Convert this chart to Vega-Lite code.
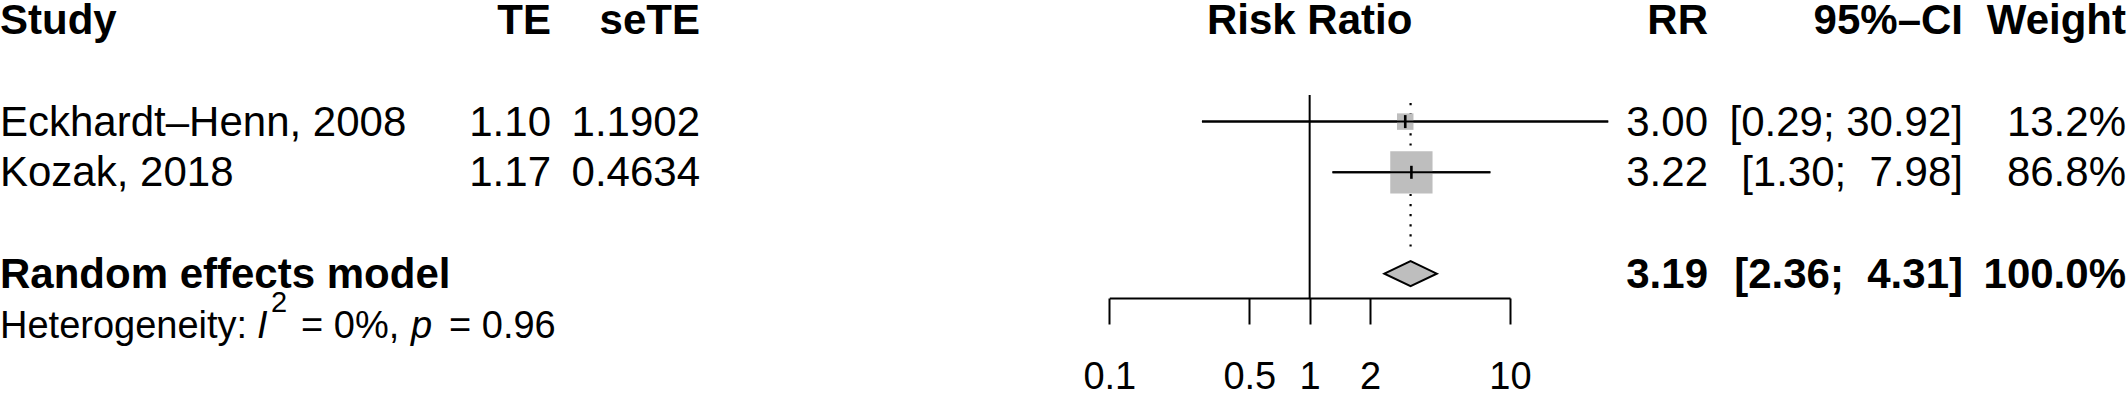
{
  "$schema": "https://vega.github.io/schema/vega-lite/v6.json",
  "width": 2128,
  "height": 399,
  "autosize": {"type": "fit", "contains": "padding"},
  "padding": 0,
  "background": "white",
  "config": {"view": {"stroke": null}, "font": "Liberation Sans", "text": {"color": "black"}},
  "datasets": {
    "table": [
      {"row": 0, "bold": true, "Study": "Study", "TE": "TE", "seTE": "seTE", "RR": "RR", "CI": "95%–CI", "Weight": "Weight"},
      {"row": 2, "bold": false, "Study": "Eckhardt–Henn, 2008", "TE": "1.10", "seTE": "1.1902", "RR": "3.00", "CI": "[0.29; 30.92]", "Weight": "13.2%"},
      {"row": 3, "bold": false, "Study": "Kozak, 2018", "TE": "1.17", "seTE": "0.4634", "RR": "3.22", "CI": "[1.30;\u00a0 7.98]", "Weight": "86.8%"},
      {"row": 5, "bold": true, "Study": "Random effects model", "TE": "", "seTE": "", "RR": "3.19", "CI": "[2.36;\u00a0 4.31]", "Weight": "100.0%"}
    ],
    "effects": [
      {"row": 2, "kind": "study", "rr": 3.00, "lower": 0.29, "upper": 30.92, "weight": 13.2},
      {"row": 3, "kind": "study", "rr": 3.22, "lower": 1.30, "upper": 7.98, "weight": 86.8},
      {"row": 5, "kind": "summary", "rr": 3.19, "lower": 2.36, "upper": 4.31, "weight": 100}
    ],
    "het": [
      {"row": 6, "seg": 0, "style": "normal", "txt": "Heterogeneity:"},
      {"row": 6, "seg": 1, "style": "italic", "txt": "I"},
      {"row": 6, "seg": 2, "style": "sup", "txt": "2"},
      {"row": 6, "seg": 3, "style": "normal", "txt": "= 0%,"},
      {"row": 6, "seg": 4, "style": "italic", "txt": "p"},
      {"row": 6, "seg": 5, "style": "normal", "txt": "= 0.96"}
    ]
  },
  "encoding": {
    "y": {"field": "row", "type": "quantitative", "scale": {"domain": [0, 6], "range": [20.2, 324.4], "zero": false, "nice": false}, "axis": null}
  },
  "resolve": {"scale": {"x": "independent"}, "axis": {"x": "independent"}},
  "layer": [
    {
      "data": {"name": "table"},
      "transform": [
        {"fold": ["Study", "TE", "seTE", "RR", "CI", "Weight"], "as": ["col", "txt"]},
        {"filter": "datum.txt != ''"},
        {"calculate": "indexof(['Study','TE','seTE','RR','CI','Weight'], datum.col)", "as": "ci"}
      ],
      "encoding": {
        "x": {"field": "ci", "type": "quantitative", "scale": {"domain": [0, 1, 2, 3, 4, 5], "range": [0, 551, 700, 1708, 1963, 2126], "zero": false, "nice": false}, "axis": null},
        "text": {"field": "txt"}
      },
      "layer": [
        {"transform": [{"filter": "datum.ci == 0 && !datum.bold"}], "mark": {"type": "text", "align": "left", "baseline": "alphabetic", "dy": 14, "fontSize": 42}},
        {"transform": [{"filter": "datum.ci == 0 && datum.bold"}], "mark": {"type": "text", "align": "left", "baseline": "alphabetic", "dy": 14, "fontSize": 42, "fontWeight": "bold"}},
        {"transform": [{"filter": "datum.ci > 0 && !datum.bold"}], "mark": {"type": "text", "align": "right", "baseline": "alphabetic", "dy": 14, "fontSize": 42}},
        {"transform": [{"filter": "datum.ci > 0 && datum.bold"}], "mark": {"type": "text", "align": "right", "baseline": "alphabetic", "dy": 14, "fontSize": 42, "fontWeight": "bold"}}
      ]
    },
    {
      "data": {"name": "het"},
      "encoding": {
        "x": {"field": "seg", "type": "quantitative", "scale": {"domain": [0, 1, 2, 3, 4, 5], "range": [0, 257, 271, 301, 411, 449], "zero": false, "nice": false}, "axis": null},
        "text": {"field": "txt"}
      },
      "layer": [
        {"transform": [{"filter": "datum.style == 'normal'"}], "mark": {"type": "text", "align": "left", "baseline": "alphabetic", "dy": 14, "fontSize": 38}},
        {"transform": [{"filter": "datum.style == 'italic'"}], "mark": {"type": "text", "align": "left", "baseline": "alphabetic", "dy": 14, "fontSize": 38, "fontStyle": "italic"}},
        {"transform": [{"filter": "datum.style == 'sup'"}], "mark": {"type": "text", "align": "left", "baseline": "alphabetic", "dy": -12, "fontSize": 29}}
      ]
    },
    {
      "data": {"name": "effects"},
      "layer": [
        {
          "transform": [{"filter": "datum.kind == 'study'"}],
          "mark": {"type": "rule", "color": "black", "strokeWidth": 2},
          "encoding": {
            "x": {"field": "lower", "type": "quantitative", "scale": {"type": "log", "domain": [0.1, 10], "range": [1109.3, 1510], "nice": false, "zero": false},
              "axis": {"values": [0.1, 0.5, 1, 2, 10], "format": "~g", "orient": "bottom", "offset": -101, "grid": false, "domain": true, "domainColor": "black", "domainWidth": 2, "ticks": true, "tickColor": "black", "tickWidth": 2, "tickSize": 26, "labelFontSize": 38, "labelColor": "black", "labelFont": "Liberation Sans", "labelBaseline": "alphabetic", "labelPadding": 64, "labelFlush": false, "labelOverlap": false, "labelBound": false, "title": null}},
            "x2": {"field": "upper"}
          }
        },
        {
          "transform": [{"filter": "datum.kind == 'summary'"}],
          "mark": {"type": "rule", "color": "black", "strokeWidth": 2},
          "encoding": {
            "x": {"datum": 1, "type": "quantitative"},
            "y": {"datum": 1.475, "type": "quantitative"},
            "y2": {"datum": 5.48}
          }
        },
        {
          "transform": [{"filter": "datum.kind == 'summary'"}],
          "mark": {"type": "text", "align": "center", "baseline": "alphabetic", "dy": 14, "fontSize": 42, "fontWeight": "bold"},
          "encoding": {
            "x": {"datum": 1, "type": "quantitative"},
            "y": {"datum": 0, "type": "quantitative"},
            "text": {"value": "Risk Ratio"}
          }
        },
        {
          "transform": [{"filter": "datum.kind == 'summary'"}],
          "mark": {"type": "rule", "color": "black", "strokeWidth": 2.2, "strokeDash": [2.2, 7.9]},
          "encoding": {
            "x": {"field": "rr", "type": "quantitative"},
            "y": {"datum": 1.633, "type": "quantitative"},
            "y2": {"datum": 4.57}
          }
        },
        {
          "transform": [{"filter": "datum.kind == 'study'"}],
          "mark": {"type": "point", "shape": "square", "filled": true, "color": "#BEBEBE", "opacity": 1, "strokeWidth": 0},
          "encoding": {
            "x": {"field": "rr", "type": "quantitative"},
            "size": {"field": "weight", "type": "quantitative", "scale": {"type": "linear", "domain": [0, 100], "range": [0, 2060], "zero": true}, "legend": null}
          }
        },
        {
          "transform": [{"filter": "datum.kind == 'study'"}],
          "mark": {"type": "rule", "color": "black", "strokeWidth": 2},
          "encoding": {
            "x": {"field": "lower", "type": "quantitative"},
            "x2": {"field": "upper"}
          }
        },
        {
          "transform": [{"filter": "datum.kind == 'study'"}],
          "mark": {"type": "point", "shape": "stroke", "angle": 90, "size": 169, "filled": false, "color": "black", "opacity": 1, "strokeWidth": 2.6},
          "encoding": {
            "x": {"field": "rr", "type": "quantitative"}
          }
        },
        {
          "transform": [{"filter": "datum.kind == 'summary'"}],
          "mark": {"type": "point", "shape": "M-1,0L0,-0.477L1,0L0,0.477Z", "size": 2746, "filled": true, "fill": "#BEBEBE", "stroke": "black", "strokeWidth": 2, "opacity": 1},
          "encoding": {
            "x": {"field": "rr", "type": "quantitative"}
          }
        }
      ]
    }
  ]
}
